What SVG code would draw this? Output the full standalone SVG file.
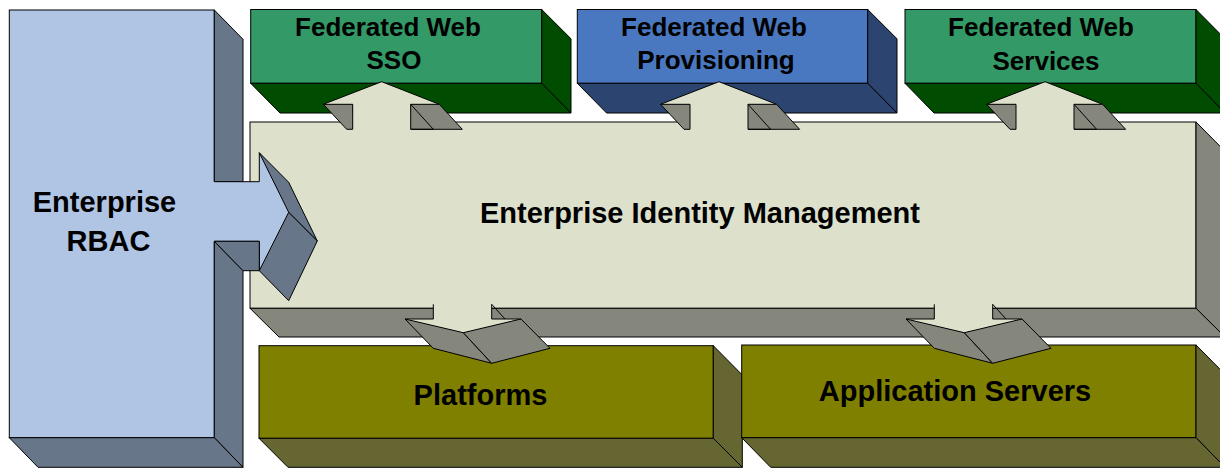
<svg xmlns="http://www.w3.org/2000/svg" width="1220" height="469" viewBox="0 0 1220 469">
  <style>
    .ln { stroke: #000; stroke-width: 1; stroke-linejoin: miter; }
    .nl { stroke: none; }
    .lbl { font-family: "Liberation Sans", Arial, sans-serif; font-weight: bold; fill: #000; text-anchor: middle; }
    .big { font-size: 29px; }
    .small { font-size: 26px; }
    .rbac-f { fill: #B0C4E4; }
    .rbac-d { fill: #687689; }
    .eim-f { fill: #DDE0CB; }
    .eim-d { fill: #85877D; }
    .grn-f { fill: #339966; }
    .grn-d { fill: #004C00; }
    .blu-f { fill: #4A78C0; }
    .blu-d { fill: #2B4570; }
    .olv-f { fill: #808000; }
    .olv-d { fill: #666633; }
    .fill-none { fill: none; }
  </style>
  <rect width="1220" height="469" fill="#FFFFFF"/>

  <!-- Enterprise RBAC: tall block, left -->
  <g id="node-rbac">
    <rect class="rbac-f ln" x="9.3" y="10" width="205" height="427.7"/>
    <polygon class="rbac-d ln" points="214.3,10 243,39.3 243,181.7 214.3,181.7"/>
    <polygon class="rbac-d ln" points="214.3,241.3 243,270.7 243,467.3 214.3,437.7"/>
    <polygon class="rbac-d ln" points="9.3,437.7 214.3,437.7 243,467.3 38,467.3"/>
    <text class="lbl big" x="104.5" y="212">Enterprise</text>
    <text class="lbl big" x="108.5" y="251">RBAC</text>
  </g>

  <!-- Federated Web SSO -->
  <g id="node-sso">
    <rect class="grn-f ln" x="250.7" y="9.5" width="291" height="73.8"/>
    <polygon class="grn-d ln" points="541.7,9.5 571,38.8 571,113 541.7,83.3"/>
    <polygon class="grn-d ln" points="250.7,83.3 541.7,83.3 571,113 280,113"/>
    <text class="lbl small" x="388" y="36">Federated Web</text>
    <text class="lbl small" x="394" y="69">SSO</text>
  </g>

  <!-- Federated Web Provisioning -->
  <g id="node-provisioning">
    <rect class="blu-f ln" x="577.3" y="9.5" width="290.4" height="73.8"/>
    <polygon class="blu-d ln" points="867.7,9.5 897,38.8 897,113 867.7,83.3"/>
    <polygon class="blu-d ln" points="577.3,83.3 867.7,83.3 897,113 606.6,113"/>
    <text class="lbl small" x="714" y="36">Federated Web</text>
    <text class="lbl small" x="716" y="69">Provisioning</text>
  </g>

  <!-- Federated Web Services -->
  <g id="node-services">
    <rect class="grn-f ln" x="905" y="9.5" width="291" height="73.8"/>
    <polygon class="grn-d ln" points="1196,9.5 1225,38.8 1225,113 1196,83.3"/>
    <polygon class="grn-d ln" points="905,83.3 1196,83.3 1225,113 934,113"/>
    <text class="lbl small" x="1041" y="36">Federated Web</text>
    <text class="lbl small" x="1046" y="70">Services</text>
  </g>

  <!-- Enterprise Identity Management: wide central slab -->
  <g id="node-eim">
    <rect class="eim-f ln" x="250" y="122" width="946" height="186.3"/>
    <polygon class="eim-d ln" points="1196,122 1225,151.3 1225,337 1196,308.3"/>
    <polygon class="eim-d ln" points="250,308.3 1196,308.3 1225,337 279,337"/>
    <text class="lbl big" x="700" y="223">Enterprise Identity Management</text>
  </g>

  <!-- Platforms -->
  <g id="node-platforms">
    <rect class="olv-f ln" x="259" y="345.7" width="454.3" height="92.6"/>
    <polygon class="olv-d ln" points="713.3,345.7 742.3,375 742.3,467.3 713.3,438.3"/>
    <polygon class="olv-d ln" points="259,438.3 713.3,438.3 742.3,467.3 288,467.3"/>
    <text class="lbl big" x="480.5" y="405">Platforms</text>
  </g>

  <!-- Application Servers -->
  <g id="node-appservers">
    <rect class="olv-f ln" x="741.7" y="345" width="454.3" height="92.7"/>
    <polygon class="olv-d ln" points="1196,345 1225,374.3 1225,467.3 1196,437.7"/>
    <polygon class="olv-d ln" points="741.7,437.7 1196,437.7 1225,467.3 770.7,467.3"/>
    <text class="lbl big" x="955" y="401">Application Servers</text>
  </g>

  <!-- Block arrows between the layers -->
  <g id="connectors">
    <!-- RBAC feeding identity management -->
    <g id="arrow-rbac">
      <polygon class="rbac-f nl" points="212.5,181.7 259.3,181.7 259.3,152.7 288.7,212.3 259.3,270.7 259.3,241.3 212.5,241.3"/>
      <polyline class="ln fill-none" points="214.3,181.7 259.3,181.7 259.3,152.7"/>
      <polyline class="ln fill-none" points="259.3,270.7 259.3,241.3 214.3,241.3"/>
      <polygon class="rbac-d ln" points="214.3,241.3 259.3,241.3 259.3,270.7 243,270.7"/>
      <polygon class="rbac-d ln" points="259.3,152.7 288.7,182.3 317.3,241 288.7,212.3"/>
      <polygon class="rbac-d ln" points="288.7,212.3 317.3,241 288.7,300.7 259.3,270.7"/>
    </g>

    <!-- upward arrow, reused for the three federated blocks -->
    <g id="arrow-up-sso">
      <polygon class="eim-f nl" points="352.7,130 352.7,104.3 323.3,104.3 381.7,81.7 439.3,104.3 410.7,104.3 410.7,130"/>
      <polyline class="ln fill-none" points="323.3,104.3 381.7,81.7 439.3,104.3"/>
      <polygon class="eim-d ln" points="323.3,104.3 352.7,104.3 352.7,129.3 346.7,129.3"/>
      <polygon class="eim-d ln" points="410.7,104.3 439.3,104.3 462.3,129.3 410.7,129.3"/>
      <line class="ln" x1="410.7" y1="104.3" x2="433.3" y2="129.3"/>
      <line class="ln" x1="410.7" y1="129.3" x2="433.3" y2="129.3" stroke-width="2"/>
    </g>
    <g id="arrow-up-provisioning" transform="translate(337.3,0)">
      <polygon class="eim-f nl" points="352.7,130 352.7,104.3 323.3,104.3 381.7,81.7 439.3,104.3 410.7,104.3 410.7,130"/>
      <polyline class="ln fill-none" points="323.3,104.3 381.7,81.7 439.3,104.3"/>
      <polygon class="eim-d ln" points="323.3,104.3 352.7,104.3 352.7,129.3 346.7,129.3"/>
      <polygon class="eim-d ln" points="410.7,104.3 439.3,104.3 462.3,129.3 410.7,129.3"/>
      <line class="ln" x1="410.7" y1="104.3" x2="433.3" y2="129.3"/>
      <line class="ln" x1="410.7" y1="129.3" x2="433.3" y2="129.3" stroke-width="2"/>
    </g>
    <g id="arrow-up-services" transform="translate(663.3,0)">
      <polygon class="eim-f nl" points="352.7,130 352.7,104.3 323.3,104.3 381.7,81.7 439.3,104.3 410.7,104.3 410.7,130"/>
      <polyline class="ln fill-none" points="323.3,104.3 381.7,81.7 439.3,104.3"/>
      <polygon class="eim-d ln" points="323.3,104.3 352.7,104.3 352.7,129.3 346.7,129.3"/>
      <polygon class="eim-d ln" points="410.7,104.3 439.3,104.3 462.3,129.3 410.7,129.3"/>
      <line class="ln" x1="410.7" y1="104.3" x2="433.3" y2="129.3"/>
      <line class="ln" x1="410.7" y1="129.3" x2="433.3" y2="129.3" stroke-width="2"/>
    </g>

    <!-- downward arrows to platforms and application servers -->
    <g id="arrow-down-platforms">
      <polygon class="eim-f nl" points="433.3,306 433.3,319 405,319 463.3,332.7 521,319 491.7,319 491.7,306"/>
      <line class="ln" x1="433.3" y1="304.3" x2="433.3" y2="319"/>
      <line class="ln" x1="491.7" y1="304.3" x2="491.7" y2="319"/>
      <line class="ln" x1="491.7" y1="304.3" x2="505" y2="319"/>
      <polyline class="ln fill-none" points="405,319 433.3,319"/>
      <polyline class="ln fill-none" points="491.7,319 521,319"/>
      <polygon class="eim-d ln" points="405,319 463.3,332.7 491.7,363.3 433.3,348.3"/>
      <polygon class="eim-d ln" points="463.3,332.7 521,319 550,348.3 491.7,363.3"/>
    </g>
    <g id="arrow-down-appservers" transform="translate(501,0)">
      <polygon class="eim-f nl" points="433.3,306 433.3,319 405,319 463.3,332.7 521,319 491.7,319 491.7,306"/>
      <line class="ln" x1="433.3" y1="304.3" x2="433.3" y2="319"/>
      <line class="ln" x1="491.7" y1="304.3" x2="491.7" y2="319"/>
      <line class="ln" x1="491.7" y1="304.3" x2="505" y2="319"/>
      <polyline class="ln fill-none" points="405,319 433.3,319"/>
      <polyline class="ln fill-none" points="491.7,319 521,319"/>
      <polygon class="eim-d ln" points="405,319 463.3,332.7 491.7,363.3 433.3,348.3"/>
      <polygon class="eim-d ln" points="463.3,332.7 521,319 550,348.3 491.7,363.3"/>
    </g>
  </g>
</svg>
